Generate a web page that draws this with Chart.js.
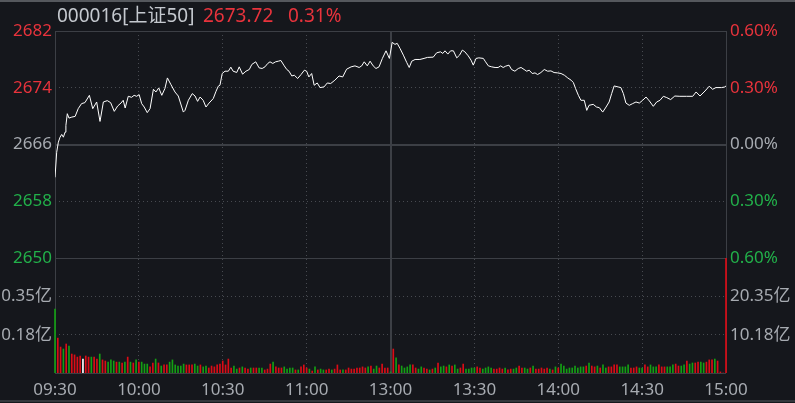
<!DOCTYPE html>
<html><head><meta charset="utf-8">
<script src="https://cdn.jsdelivr.net/npm/chart.js@4"></script>
<style>
html,body{margin:0;padding:0;background:#15171c;}
#wrap{position:relative;width:795px;height:403px;overflow:hidden;background:#15171c;}
#c{position:absolute;left:0;top:0;}
.t{position:absolute;top:3px;font-family:"Noto Sans","Noto Sans CJK SC",sans-serif;font-size:19px;line-height:24px;white-space:pre;}
</style></head>
<body>
<div id="wrap">
<canvas id="c" width="795" height="403"></canvas>
<span class="t" style="left:57px;color:#c4c8ce">000016[上证50]</span>
<span class="t" style="left:203px;color:#e8333c">2673.72</span>
<span class="t" style="left:288px;color:#e8333c">0.31%</span>
</div>
<script>
// ---- data ----
const prevClose = 2665.46;
const pctRange = 0.6; // percent, symmetric
const timeLabels = ['09:30','10:00','10:30','11:00','13:00','13:30','14:00','14:30','15:00'];
const priceLabels = ['2650','2658','2666','2674','2682'];          // bottom -> top
const pctLabels = ['0.60%','0.30%','0.00%','0.30%','0.60%'];        // bottom -> top
const volMax = 0.5273;
const volLabels = ['0.18亿','0.35亿'];
const amtMax = 30.53;
const amtLabels = ['10.18亿','20.35亿'];

const priceMinutes = [
0,0.6,1.2,1.8,2.4,3.0,3.6,3.9,4.4,5.0,6.0,7.2,8.3,9.5,10.7,12.3,13.5,14.9,16.1,17.3,18.7,19.9,21.2,22.4,23.6,24.4,25.1,26.2,27.4,28.3,29.2,30.1,31.0,31.9,33.0,34.0,35.2,36.1,37.1,38.2,39.3,40.2,41.4,42.9,44.1,45.9,
46.5,47.7,49.1,50.1,51.0,51.9,53.0,54.0,55.1,56.6,57.6,58.4,59.0,59.8,60.8,62.0,62.9,63.7,65.0,65.9,67.1,68.3,69.5,70.4,71.8,73.0,74.1,75.1,76.1,76.9,77.9,78.9,79.9,80.8,82.0,82.9,83.7,84.7,85.6,86.8,88.0,89.2,90.0,90.8,91.8,92.7,93.8,94.8,
96.2,97.4,98.6,100.1,101.6,102.9,104.3,105.9,107.3,108.8,109.7,110.6,111.7,112.7,113.8,114.8,115.9,117.1,118.4,119.6,
120.6,121.6,122.4,123.4,124.6,125.8,126.7,127.6,128.8,130.5,132.0,133.2,135.3,136.5,137.9,138.7,139.5,140.5,141.5,142.5,143.7,
144.7,145.7,146.6,147.8,148.8,149.6,150.6,151.6,153.2,154.0,155.0,156.2,157.4,158.5,159.4,160.3,161.2,162.4,163.3,164.5,165.7,166.7,167.8,168.7,169.6,170.7,171.7,172.6,173.8,175.0,176.2,177.4,178.5,179.8,181.0,182.2,183.4,184.6,185.4,186.2,187.2,188.1,189.3,190.2,191.0,
192.5,193.7,194.7,195.9,197.1,198.2,199.1,200.0,201.4,202.4,203.3,204.2,205.4,206.6,207.8,209.0,210.2,211.4,212.6,214.0,215.2,216.4,217.6,218.8,220.2,221.7,223.5,225.9,228.1,229.3,230.7,232.5,234.0,235.2,236.4,238.4,239.6,240
];
const priceValues = [
2660.83,2664.37,2665.79,2666.49,2666.88,2666.49,2667.20,2668.15,2669.80,2669.18,2669.32,2669.42,2670.51,2671.22,2671.36,2672.39,2670.51,2671.45,2668.71,2671.45,2671.64,2671.36,2670.13,2670.88,2671.30,2671.69,2670.60,2672.25,2672.11,2672.39,2672.25,2672.49,2671.22,2670.74,2669.95,2670.51,2673.24,2672.86,2673.43,2672.39,2673.34,2674.84,2673.95,2672.86,2672.29,2670.03,
2670.27,2671.69,2672.63,2672.29,2671.54,2672.15,2671.69,2670.74,2671.30,2671.93,2672.96,2673.67,2673.81,2675.46,2675.79,2675.79,2676.36,2675.79,2675.61,2676.40,2675.37,2675.79,2676.03,2676.74,2677.11,2676.26,2676.17,2676.40,2676.88,2677.11,2676.88,2677.11,2677.20,2677.30,2676.54,2676.03,2675.79,2675.12,2675.22,2674.76,2675.32,2675.93,2675.79,2674.98,2675.46,2673.81,2674.13,2673.48,
2673.57,2674.13,2674.05,2674.52,2675.12,2674.98,2676.07,2676.40,2676.54,2676.31,2676.54,2677.11,2676.54,2677.20,2676.54,2676.17,2676.40,2677.59,2678.66,2677.59,
2679.85,2679.57,2679.71,2679.00,2678.05,2677.02,2676.31,2677.20,2677.44,2677.44,2677.59,2677.73,2677.77,2678.38,2678.52,2678.29,2678.66,2678.20,2678.66,2678.66,2677.67,
2678.05,2678.76,2678.52,2677.95,2677.35,2676.64,2677.59,2677.67,2677.59,2677.11,2676.54,2676.40,2676.31,2676.31,2676.54,2676.31,2676.50,2676.64,2676.03,2675.79,2676.17,2676.31,2676.03,2675.79,2675.93,2675.46,2675.55,2675.32,2675.60,2676.03,2675.79,2675.83,2675.60,2675.55,2675.46,2675.22,2674.84,2674.52,2674.19,2673.34,2672.39,2671.69,2671.69,2670.27,2670.98,
2671.12,2670.74,2670.65,2670.03,2670.74,2671.45,2672.63,2673.71,2673.57,2673.48,2672.63,2671.30,2670.98,2671.22,2671.45,2671.30,2671.69,2672.15,2671.59,2670.84,2671.45,2671.69,2672.25,2672.07,2671.79,2672.29,2672.25,2672.25,2672.25,2672.86,2672.29,2673.00,2673.67,2673.24,2673.48,2673.48,2673.57,2673.72
];

// volume per minute (亿股), index 0 = 09:30
const volumeValues = [
0.293,0.160,0.119,0.110,0.133,0.124,0.087,0.083,0.073,0.078,
0.064,0.078,0.073,0.073,0.073,0.064,0.087,0.060,0.055,0.050,
0.060,0.055,0.050,0.050,0.046,0.050,0.073,0.050,0.046,0.060,
0.050,0.050,0.041,0.041,0.028,0.046,0.064,0.046,0.032,0.037,
0.037,0.050,0.060,0.037,0.032,0.032,0.041,0.037,0.037,0.037,
0.041,0.032,0.037,0.028,0.032,0.023,0.032,0.028,0.037,0.041,
0.055,0.037,0.064,0.023,0.032,0.018,0.023,0.028,0.023,0.018,
0.023,0.023,0.023,0.023,0.023,0.014,0.018,0.041,0.050,0.028,
0.023,0.023,0.028,0.018,0.023,0.023,0.014,0.014,0.028,0.037,
0.023,0.018,0.009,0.028,0.014,0.018,0.014,0.014,0.018,0.014,
0.018,0.037,0.014,0.014,0.014,0.023,0.018,0.018,0.023,0.023,
0.028,0.023,0.028,0.032,0.018,0.032,0.023,0.041,0.023,0.023,
0.005,0.110,0.069,0.037,0.032,0.023,0.028,0.037,0.037,0.023,
0.018,0.028,0.023,0.018,0.014,0.018,0.023,0.046,0.028,0.032,
0.028,0.037,0.032,0.037,0.018,0.023,0.041,0.018,0.018,0.023,
0.023,0.028,0.023,0.018,0.023,0.028,0.023,0.018,0.018,0.023,0.018,
0.023,0.014,0.018,0.018,0.023,0.032,0.023,0.023,0.018,0.023,
0.032,0.018,0.018,0.023,0.018,0.023,0.018,0.014,0.028,0.023,
0.041,0.032,0.018,0.023,0.023,0.032,0.023,0.028,0.028,0.032,
0.046,0.032,0.028,0.032,0.023,0.037,0.023,0.028,0.028,0.037,
0.037,0.028,0.028,0.028,0.037,0.023,0.023,0.028,0.023,0.023,
0.037,0.028,0.037,0.028,0.028,0.037,0.028,0.028,0.028,0.028,
0.037,0.041,0.032,0.032,0.037,0.055,0.041,0.046,0.046,0.050,
0.050,0.046,0.050,0.060,0.060,0.064,0.055,0.005,
0,1.2
];
// R = up (red), G = down (green), W = unchanged (white)
const volumeDirection = (
"GRRGRGRRRR"+"WRRGRRGRRG"+"GGRGRGRGRG"+"RGGGRRGRGR"+"RGGGGGGRRR"+"GGRGGRRRRR"+"RRRRGGRGRR"+"GRRGGRRRGR"+
"RRGGGGRGRR"+"RGRGRGGRRG"+"RRRGRRRRRR"+"RRGRGGRRRR"+"GRGRGGGGRR"+"GGRRGRGRGG"+"RGRGGRRGGG"+"GRRGGGGRRRR"+
"GRRGGRRGGR"+"GRRRRRGRGR"+"GGGGGGGGGR"+"GRRGRGGRRR"+"RGGGGRRRGG"+"RRGGGRRRGG"+"GRRGGRGGRR"+"GGRRRGRR"+
"RR").split('');

// ---- style ----
const BG = '#15171c';
const TXT = '#a7abb1';
const RED_T = '#e8333c';
const GRN_T = '#22b04a';
const RED_B = '#dc0c16';
const GRN_B = '#14a014';
const DOT = '#474a50';
const SOLID = '#3c3f45';
const FONT = {family:'"Noto Sans","Noto Sans CJK SC",sans-serif', size:17};

const pMin = prevClose*(1-pctRange/100), pMax = prevClose*(1+pctRange/100);
const sideColors = [GRN_T, GRN_T, TXT, RED_T, RED_T];

const framePlugin = {
  id:'frame',
  beforeDraw(c){
    const ctx=c.ctx; ctx.save();
    ctx.fillStyle=BG; ctx.fillRect(0,0,c.width,c.height);
    ctx.fillStyle='#55585d'; ctx.fillRect(0,0,c.width,2);
    ctx.fillStyle='#34373c'; ctx.fillRect(0,400,c.width,2);
    ctx.restore();
  },
  beforeDatasetsDraw(c){
    const ctx=c.ctx, a=c.chartArea, x=c.scales.x, y=c.scales.y, yv=c.scales.yVol;
    ctx.save(); ctx.fillStyle=SOLID;
    const h=(py,w)=>ctx.fillRect(a.left, Math.round(py-w/2), a.right-a.left, w);
    const v=(px,w)=>ctx.fillRect(Math.round(px-w/2), a.top, w, a.bottom-a.top);
    h(y.getPixelForValue(pMax),1);
    h(y.getPixelForValue(prevClose),2);
    h(y.getPixelForValue(pMin),1);
    h(yv.getPixelForValue(0),1);
    v(x.getPixelForValue(0),1);
    v(x.getPixelForValue(120),2);
    v(x.getPixelForValue(240),1);
    ctx.restore();
  }
};
const volClip = {
  id:'volClip',
  beforeDatasetDraw(c,args){
    if(args.index!==1) return;
    const s=c.scales.yVol, a=c.chartArea;
    c.ctx.save(); c.ctx.beginPath();
    c.ctx.rect(a.left-1, s.top, a.right-a.left+2, s.bottom-s.top); c.ctx.clip();
  },
  afterDatasetDraw(c,args){ if(args.index===1) c.ctx.restore(); }
};

new Chart(document.getElementById('c'), {
  data:{datasets:[
    {type:'line', xAxisID:'x', yAxisID:'y',
     data: priceMinutes.map((m,i)=>({x:m, y:priceValues[i]})),
     borderColor:'#ffffff', borderWidth:1, pointRadius:0, tension:0, fill:false},
    {type:'bar', xAxisID:'x', yAxisID:'yVol', clip:false,
     data: volumeValues.map((v,i)=>({x:i, y:v})),
     backgroundColor: volumeDirection.map(d=> d==='R'?RED_B:(d==='G'?GRN_B:'#ffffff')),
     barThickness:1, borderWidth:0}
  ]},
  options:{
    responsive:false, animation:false, devicePixelRatio:1,
    layout:{padding:{top:31,left:0,right:0,bottom:0}},
    plugins:{legend:{display:false}, tooltip:{enabled:false}, title:{display:false}},
    scales:{
      x:{type:'linear', position:'bottom', min:0, max:240, offset:false,
        afterBuildTicks:s=>{s.ticks=timeLabels.map((_,i)=>({value:i*30}));},
        afterFit:s=>{s.height=30;},
        ticks:{callback:(v,i)=>timeLabels[i], color:TXT, font:FONT, maxRotation:0, autoSkip:false, padding:7},
        grid:{color:DOT, lineWidth:1, drawTicks:false, offset:false},
        border:{display:false, dash:[1,3]}},
      yVol:{type:'linear', position:'left', stack:'L', stackWeight:115, min:0, max:volMax,
        afterBuildTicks:s=>{s.ticks=volLabels.map((_,i)=>({value:volMax*(i+1)/3}));},
        afterFit:s=>{s.width=55;},
        ticks:{callback:(v,i)=>volLabels[i], color:TXT, font:FONT, padding:3, autoSkip:false},
        grid:{color:DOT, lineWidth:1, drawTicks:false},
        border:{display:false, dash:[1,3]}},
      y:{type:'linear', position:'left', stack:'L', stackWeight:227, min:pMin, max:pMax,
        afterBuildTicks:s=>{s.ticks=priceLabels.map((_,i)=>({value:pMin+i*(pMax-pMin)/4}));},
        afterFit:s=>{s.width=55;},
        ticks:{callback:(v,i)=>priceLabels[i], color:c=>sideColors[c.index], font:FONT, padding:3, autoSkip:false},
        grid:{color:DOT, lineWidth:1, drawTicks:false},
        border:{display:false, dash:[1,3]}},
      yPct:{type:'linear', position:'right', stack:'R', stackWeight:227, min:-pctRange, max:pctRange,
        afterBuildTicks:s=>{s.ticks=pctLabels.map((_,i)=>({value:-pctRange+i*pctRange/2}));},
        afterFit:s=>{s.width=69;},
        ticks:{callback:(v,i)=>pctLabels[i], color:c=>sideColors[c.index], font:FONT, padding:4, autoSkip:false},
        grid:{display:false, drawTicks:false}, border:{display:false}},
      yAmt:{type:'linear', position:'right', stack:'R', stackWeight:115, min:0, max:amtMax,
        afterBuildTicks:s=>{s.ticks=amtLabels.map((_,i)=>({value:amtMax*(i+1)/3}));},
        afterFit:s=>{s.width=69;},
        ticks:{callback:(v,i)=>amtLabels[i], color:TXT, font:FONT, padding:4, autoSkip:false},
        grid:{display:false, drawTicks:false}, border:{display:false}}
    }
  },
  plugins:[framePlugin, volClip]
});
</script>
</body></html>
